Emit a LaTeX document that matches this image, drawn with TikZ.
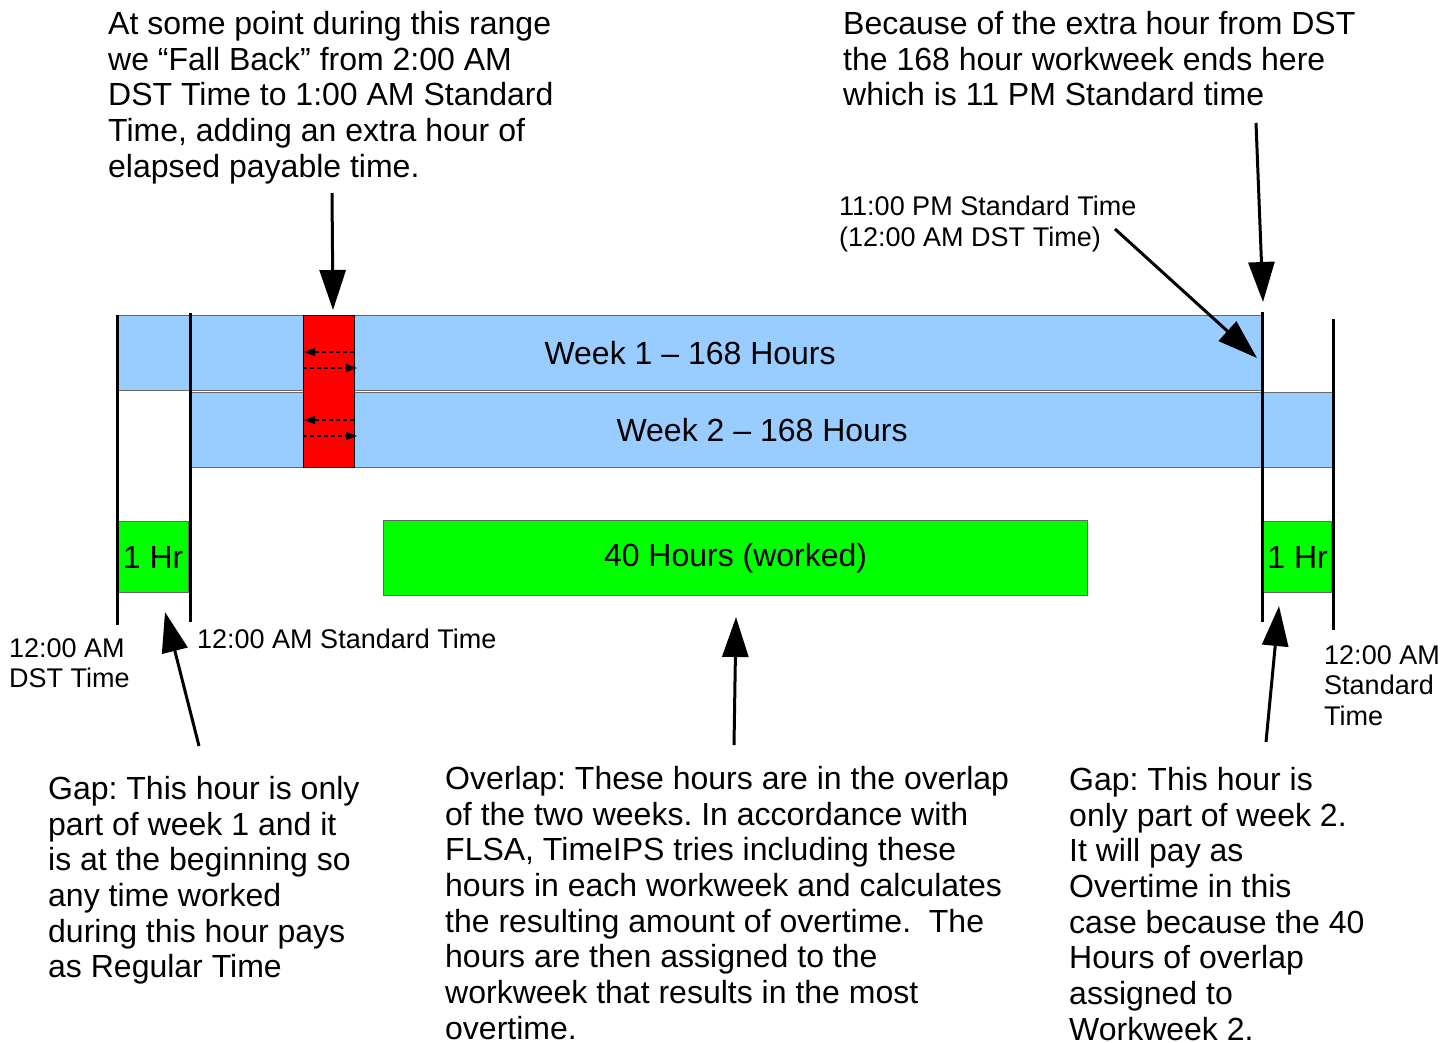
\documentclass[tikz,border=0pt]{standalone}
\usepackage{fontspec}
\setmainfont{Liberation Sans}
\usetikzlibrary{arrows.meta}
\frenchspacing
\definecolor{barblue}{HTML}{99CCFF}
\definecolor{bargrey}{HTML}{666666}
\definecolor{hrgreen}{HTML}{00FF00}
\tikzset{
  bigfont/.style={font=\fontsize{32}{35.7}\selectfont\frenchspacing},
  smallfont/.style={font=\fontsize{27}{30.8}\selectfont\frenchspacing},
  bar/.style={draw=bargrey, line width=1.2pt, fill=barblue, anchor=north west, inner sep=0pt, bigfont},
  greenbox/.style={draw=bargrey, line width=1.2pt, fill=hrgreen, anchor=north west, inner sep=0pt, bigfont},
  note/.style={anchor=north west, inner sep=0pt, align=left},
  tick/.style={line width=3pt},
  bigarrow/.style={line width=3pt, -{Triangle[length=40pt,width=26pt]}},
  dasharrow/.style={line width=1.3pt, dash pattern=on 4pt off 3pt, -{Triangle[length=11pt,width=8pt]}},
}
\begin{document}
\begin{tikzpicture}[x=1pt,y=-1pt]
\useasboundingbox (0,0) rectangle (1455,1042);
% bars
\node[bar, minimum width=1145pt, minimum height=75pt] (w1) at (117,315) {Week 1 -- 168 Hours};
\node[bar, minimum width=1143pt, minimum height=75pt] (w2) at (190,392) {Week 2 -- 168 Hours};
\node[draw=black, line width=1.2pt, fill=red, anchor=north west, inner sep=0pt, minimum width=51pt, minimum height=152pt] (red) at (303,315) {};
% dashed arrows in red box
\coordinate (da1s) at (354,352); \coordinate (da1e) at (304,352);
\coordinate (da2s) at (303,368); \coordinate (da2e) at (357,368);
\coordinate (da3s) at (354,420); \coordinate (da3e) at (304,420);
\coordinate (da4s) at (303,436); \coordinate (da4e) at (357,436);
\draw[dasharrow] (da1s) -- (da1e);
\draw[dasharrow] (da2s) -- (da2e);
\draw[dasharrow] (da3s) -- (da3e);
\draw[dasharrow] (da4s) -- (da4e);
% green boxes
\node[greenbox, minimum width=71pt, minimum height=71pt] (g1) at (117,521) {1 Hr};
\node[greenbox, minimum width=704pt, minimum height=75pt] (g2) at (383,520) {\raisebox{-2pt}{40 Hours (worked)}};
\node[greenbox, minimum width=68pt, minimum height=71pt] (g3) at (1263,521) {1 Hr};
% vertical lines
\coordinate (v1t) at (117,315); \coordinate (v1b) at (117,625);
\coordinate (v2t) at (190,313); \coordinate (v2b) at (190,622);
\coordinate (v3t) at (1262,312); \coordinate (v3b) at (1262,622);
\coordinate (v4t) at (1333,319); \coordinate (v4b) at (1333,630);
\draw[tick] (v1t) -- (v1b);
\draw[tick] (v2t) -- (v2b);
\draw[tick] (v3t) -- (v3b);
\draw[tick] (v4t) -- (v4b);
% texts
\node[note, bigfont] (t1) at (108,11) {At some point during this range\\we “Fall Back” from 2:00 AM\\DST Time to 1:00 AM Standard\\Time, adding an extra hour of\\elapsed payable time.};
\node[note, bigfont] (t2) at (843,11) {Because of the extra hour from DST\\the 168 hour workweek ends here\\which is 11 PM Standard time};
\node[note, smallfont] (t3) at (839,196) {11:00 PM Standard Time\\(12:00 AM DST Time)};
\node[note, smallfont] (t4) at (9,638) {12:00 AM\\DST Time};
\node[note, smallfont] (t5) at (197,629) {12:00 AM Standard Time};
\node[note, smallfont] (t6) at (1324,645) {12:00 AM\\Standard\\Time};
\node[note, bigfont] (t7) at (48,776) {Gap: This hour is only\\part of week 1 and it\\is at the beginning so\\any time worked\\during this hour pays\\as Regular Time};
\node[note, bigfont] (t8) at (445,766) {Overlap: These hours are in the overlap\\of the two weeks. In accordance with\\FLSA, TimeIPS tries including these\\hours in each workweek and calculates\\the resulting amount of overtime.\ \ The\\hours are then assigned to the\\workweek that results in the most\\overtime.};
\node[note, bigfont] (t9) at (1069,767) {Gap: This hour is\\only part of week 2.\\It will pay as\\Overtime in this\\case because the 40\\Hours of overlap\\assigned to\\Workweek 2.};
% arrows
\coordinate (a1s) at (332,193); \coordinate (a1e) at (333,310);
\coordinate (a2s) at (1256,123); \coordinate (a2e) at (1263,302);
\coordinate (a3s) at (1115,229); \coordinate (a3e) at (1257,358);
\coordinate (a4s) at (199,746); \coordinate (a4e) at (165,612);
\coordinate (a5s) at (734,745); \coordinate (a5e) at (736,617);
\coordinate (a6s) at (1266,742); \coordinate (a6e) at (1279,606);
\draw[bigarrow] (a1s) -- (a1e);
\draw[bigarrow] (a2s) -- (a2e);
\draw[bigarrow] (a3s) -- (a3e);
\draw[bigarrow] (a4s) -- (a4e);
\draw[bigarrow] (a5s) -- (a5e);
\draw[bigarrow] (a6s) -- (a6e);
\end{tikzpicture}
\end{document}
